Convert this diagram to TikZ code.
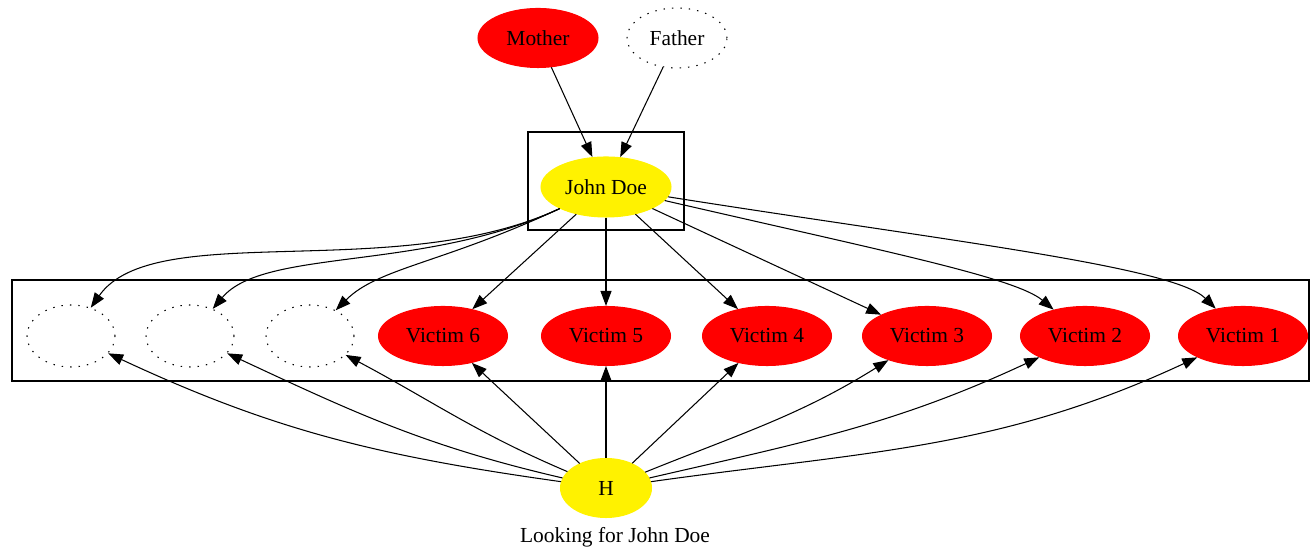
\documentclass[tikz,border=0pt]{standalone}
\usepackage{fontspec}
\setmainfont{Liberation Serif}
\usetikzlibrary{shapes.geometric, arrows.meta}
\begin{document}
\begin{tikzpicture}[x=0.02cm, y=0.02cm, line width=0.6pt,
    >={Triangle[length=3mm, width=2.2mm]},
    every node/.style = {font=\fontsize{12.2}{14}\selectfont, inner sep=0pt},
    hot/.style = {ellipse, fill=red, draw=red, minimum width=2.58cm, minimum height=1.18cm},
    sun/.style = {ellipse, fill=yellow, draw=yellow},
    lost/.style = {ellipse, draw, dash pattern=on 0.8pt off 4pt, minimum width=1.76cm, minimum height=1.24cm}]
    \useasboundingbox (0,0) rectangle (1311,550);
    % clusters
    \draw[line width=0.8pt] (528,320) rectangle (684,418);
    \draw[line width=0.8pt] (12,169) rectangle (1309,270);
    % parents
    \node[hot, minimum width=2.4cm] (mother) at (538,512) {Mother};
    \node[lost, minimum width=2cm, minimum height=1.2cm] (father) at (677,512) {Father};
    \node[sun, minimum width=2.6cm, minimum height=1.2cm] (jd) at (606,363) {John Doe};
    % victims
    \node[lost] (d1) at (71,214) {};
    \node[lost] (d2) at (190,214) {};
    \node[lost] (d3) at (310,214) {};
    \node[hot] (v6) at (443,214) {Victim 6};
    \node[hot] (v5) at (606,214) {Victim 5};
    \node[hot] (v4) at (767,214) {Victim 4};
    \node[hot] (v3) at (927,214) {Victim 3};
    \node[hot] (v2) at (1085,214) {Victim 2};
    \node[hot] (v1) at (1243,214) {Victim 1};
    \node[sun, minimum width=1.82cm, minimum height=1.18cm] (h) at (606,62) {H};
    \node (title) at (615,13) {Looking for John Doe};
    % edges
    \draw[->] (mother) -- (jd);
    \draw[->] (father) -- (jd);
    \draw[->] (jd) to [out=205, in=55, out distance=3.6cm, in distance=2.2cm] (d1);
    \draw[->] (jd) to [out=205, in=50, out distance=3cm, in distance=1.6cm] (d2);
    \draw[->] (jd) to [out=205, in=45, out distance=2.6cm, in distance=1.2cm] (d3);
    \draw[->] (jd) -- (v6);
    \draw[->] (jd) -- (v5);
    \draw[->] (jd) -- (v4);
    \draw[->] (jd) -- (v3);
    \draw[->] (jd) to [out=-13, in=140, out distance=4.5cm, in distance=1cm] (v2);
    \draw[->] (jd) to [out=-9, in=135, out distance=5.5cm, in distance=1.2cm] (v1);
    \draw[->] (h) to [out=172, in=-25] (d1);
    \draw[->] (h) to [out=167, in=-25] (d2);
    \draw[->] (h) to [out=157, in=-28] (d3);
    \draw[->] (h) -- (v6);
    \draw[->] (h) -- (v5);
    \draw[->] (h) -- (v4);
    \draw[->] (h) to [out=22, in=-148] (v3);
    \draw[->] (h) to [out=13, in=-155] (v2);
    \draw[->] (h) to [out=8, in=-155] (v1);
\end{tikzpicture}
\end{document}
